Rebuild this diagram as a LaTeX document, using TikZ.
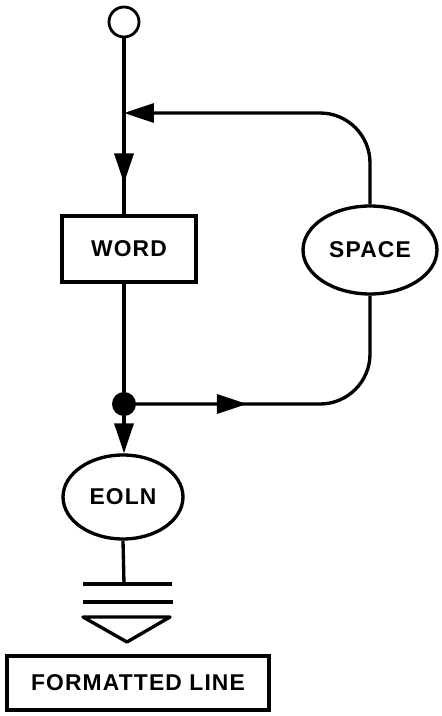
\documentclass[tikz,border=0pt]{standalone}
\usepackage{fontspec}
\newfontfamily\lblfont[LetterSpace=5]{Liberation Sans}
\usetikzlibrary{arrows.meta,shapes.geometric,decorations.markings}

\tikzset{
  flow/.style={line width=1.9pt},
  tip/.style={-{Triangle[length=6mm,width=3.8mm]}},
  midtip/.style={postaction={decorate},decoration={markings,
    mark=at position #1 with {\arrow{Triangle[length=6mm,width=3.8mm]}}}},
  box/.style={draw,line width=1.9pt,rectangle,inner sep=0pt,font=\lblfont\bfseries\fontsize{13}{15}\selectfont},
  oval/.style={draw,line width=1.9pt,ellipse,inner sep=0pt,font=\lblfont\bfseries\fontsize{13}{15}\selectfont}
}

\begin{document}
\begin{tikzpicture}[x=0.02cm,y=-0.02cm]
\useasboundingbox (0,0) rectangle (441,716);
% entry point and the three stages
\node[draw,line width=1.6pt,circle,minimum size=0.6cm,inner sep=0pt] (start) at (124,22) {};
\node[box,minimum width=2.68cm,minimum height=1.32cm] (word) at (129,249) {WORD};
\node[oval,minimum width=2.68cm,minimum height=1.76cm] (space) at (370,250) {SPACE};
\node[oval,minimum width=2.4cm,minimum height=1.68cm] (eoln) at (123,497) {EOLN};
\node[box,minimum width=5.24cm,minimum height=1.08cm] (out) at (138,683) {FORMATTED LINE};
\fill (124,404) circle (12) coordinate (split);
\coordinate (join) at (124,113);
\coordinate (bar) at (124,584);

\draw[flow,midtip=2.9cm] (start.south) -- (start.south |- word.north);
\draw[flow] (start.south |- word.south) -- (split);
\draw[flow,tip,rounded corners=1cm] (space.north) |- (join);
\draw[flow,midtip=2.46cm,rounded corners=1cm] (split) -| (space.south);
\draw[flow,tip] (split) -- (eoln.north -| split);
\draw[flow] (eoln.south) -- (bar);

% output symbol
\draw[flow] (83,584) -- (172,584);
\draw[flow] (83,602) -- (173,602);
\draw[flow,line join=round] (83,617) -- (170,617) -- (127,642) -- cycle;
\end{tikzpicture}
\end{document}
